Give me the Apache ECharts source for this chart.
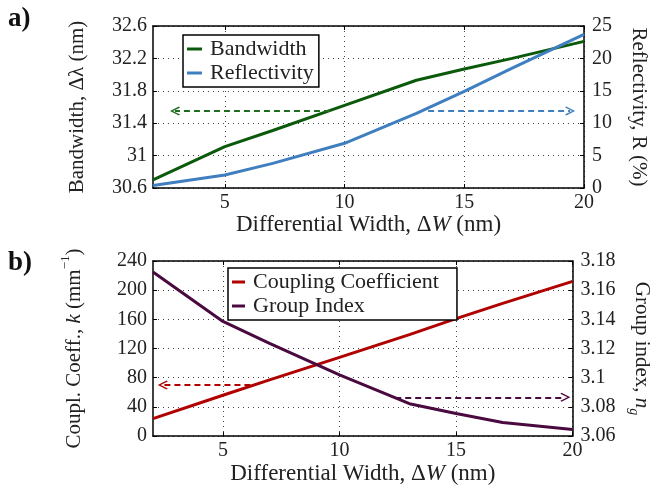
<!DOCTYPE html>
<html>
<head>
<meta charset="utf-8">
<script src="https://cdn.jsdelivr.net/npm/echarts@6/dist/echarts.min.js"></script>
<style>
  html, body { margin: 0; padding: 0; background: #fff; }
  #chart { width: 660px; height: 486px; }
</style>
</head>
<body>
<div id="chart"></div>
<script>
// differential width samples (nm)
const widths = [2, 5, 7, 10, 13, 15, 17, 20];
// panel a
const bandwidth = [30.70, 31.11, 31.31, 31.62, 31.93, 32.07, 32.20, 32.41];
const reflectivity = [0.4, 2.0, 3.8, 6.9, 11.5, 14.9, 18.5, 23.7];
// panel b
const coupling = [24, 56, 77, 108, 139, 161, 182, 212];
const groupIndex = [3.1725, 3.1386, 3.1236, 3.102, 3.0822, 3.0755, 3.0693, 3.0645];

// tick labels
const xTicks = [5, 10, 15, 20];
const bwTicks = [30.6, 31, 31.4, 31.8, 32.2, 32.6];
const reflTicks = [0, 5, 10, 15, 20, 25];
const kTicks = [0, 40, 80, 120, 160, 200, 240];
const ngTicks = [3.06, 3.08, 3.1, 3.12, 3.14, 3.16, 3.18];

// dashed arrows: [fromX, toX, y]
const bwArrow = [9.39, 2.92, 31.55];
const reflArrow = [13.49, 19.42, 11.9];
const kArrow = [6.18, 2.42, 70];
const ngArrow = [12.39, 19.69, 3.0866];

const FONT = '"Liberation Serif", serif';
const TXT = '#222';
const chevron = 'path://M5,0 L10,8 L8.8,9 L5,2.6 L1.2,9 L0,8 Z';

const chart = echarts.init(document.getElementById('chart'), null, { renderer: 'canvas' });

function pairs(ys) {
  return widths.map((x, i) => [x, ys[i]]);
}

function arrowLine(a, color) {
  return {
    silent: true,
    animation: false,
    symbol: ['none', chevron],
    symbolSize: [9, 10],
    label: { show: false },
    lineStyle: { color: color, type: [6, 4], width: 2 },
    emphasis: { disabled: true },
    data: [[{ coord: [a[0], a[2]] }, { coord: [a[1], a[2]] }]]
  };
}

function xAxisBottom(gridIndex, gap) {
  return {
    type: 'value',
    gridIndex: gridIndex,
    min: 2,
    max: 20,
    position: 'bottom',
    name: '{n|Differential Width, Δ}{i|W}{n| (nm)}',
    nameLocation: 'middle',
    nameGap: gap,
    nameTextStyle: {
      rich: {
        n: { fontFamily: FONT, fontSize: 23, color: TXT },
        i: { fontFamily: FONT, fontSize: 23, color: TXT, fontStyle: 'italic' }
      }
    },
    axisLine: { lineStyle: { color: '#000', width: 1.5 } },
    axisTick: { inside: true, length: 4, customValues: xTicks, lineStyle: { color: '#000' } },
    axisLabel: { customValues: xTicks, fontFamily: FONT, fontSize: 20, color: TXT, margin: 5 },
    splitLine: { show: true, lineStyle: { color: '#444', type: [1, 4], width: 1 } }
  };
}

function xAxisTop(gridIndex) {
  return {
    type: 'value',
    gridIndex: gridIndex,
    min: 2,
    max: 20,
    position: 'top',
    axisLine: { lineStyle: { color: '#000', width: 1.5 } },
    axisTick: { inside: true, length: 4, customValues: xTicks, lineStyle: { color: '#000' } },
    axisLabel: { show: false },
    splitLine: { show: false }
  };
}

function yAxis(gridIndex, pos, min, max, ticks, name, rich, gap, grid) {
  return {
    type: 'value',
    gridIndex: gridIndex,
    position: pos,
    min: min,
    max: max,
    name: name,
    nameLocation: 'middle',
    nameGap: gap,
    nameRotate: pos === 'left' ? 90 : -90,
    nameTextStyle: { rich: rich },
    axisLine: { show: true, lineStyle: { color: '#000', width: 1.5 } },
    axisTick: { show: true, inside: true, length: 4, customValues: ticks, lineStyle: { color: '#000' } },
    axisLabel: { customValues: ticks, fontFamily: FONT, fontSize: 20, color: TXT, margin: pos === 'left' ? 6 : 8 },
    splitLine: { show: grid, lineStyle: { color: '#444', type: [1, 4], width: 1 } }
  };
}

const plain = { fontFamily: FONT, fontSize: 21, color: TXT, lineHeight: 30 };
const ital = Object.assign({}, plain, { fontStyle: 'italic' });

const option = {
  animation: false,
  textStyle: { fontFamily: FONT },
  graphic: [
    { type: 'text', left: 8, top: 6, style: { text: 'a)', font: 'bold 27px "Liberation Serif", serif', fill: '#111' } },
    { type: 'text', left: 8, top: 250, style: { text: 'b)', font: 'bold 27px "Liberation Serif", serif', fill: '#111' } }
  ],
  grid: [
    { left: 153, top: 26, width: 431, height: 162, containLabel: false },
    { left: 153, top: 261, width: 431, height: 181, containLabel: false }
  ],
  legend: [
    {
      data: ['Bandwidth', 'Reflectivity'],
      orient: 'vertical',
      left: 183,
      top: 35,
      padding: [3, 5, 3, 4],
      itemGap: 2,
      itemWidth: 15,
      itemHeight: 3,
      icon: 'rect',
      backgroundColor: '#fff',
      borderColor: '#000',
      borderWidth: 1.5,
      borderRadius: 0,
      selectedMode: false,
      textStyle: { fontFamily: FONT, fontSize: 22, color: TXT, lineHeight: 22, padding: [0, 0, 0, 3] }
    },
    {
      data: ['Coupling Coefficient', 'Group Index'],
      orient: 'vertical',
      left: 228,
      top: 268,
      padding: [3, 18, 3, 4],
      itemGap: 2,
      itemWidth: 13,
      itemHeight: 3,
      icon: 'rect',
      backgroundColor: '#fff',
      borderColor: '#000',
      borderWidth: 1.5,
      borderRadius: 0,
      selectedMode: false,
      textStyle: { fontFamily: FONT, fontSize: 22, color: TXT, lineHeight: 22, padding: [0, 0, 0, 3] }
    }
  ],
  xAxis: [xAxisBottom(0, 20), xAxisTop(0), xAxisBottom(1, 21), xAxisTop(1)],
  yAxis: [
    yAxis(0, 'left', 30.6, 32.6, bwTicks,
      '{n|Bandwidth, Δλ (nm)}', { n: plain }, 61, true),
    yAxis(0, 'right', 0, 25, reflTicks,
      '{n|Reflectivity, R (%)}', { n: plain }, 40, false),
    yAxis(1, 'left', 0, 240, kTicks,
      '{n|Coupl. Coeff., }{i|k}{n| (mm}{s|−1}{n|)}',
      { n: plain, i: ital, s: { fontFamily: FONT, fontSize: 13, color: TXT, verticalAlign: 'top', lineHeight: 24 } }, 64, true),
    yAxis(1, 'right', 3.06, 3.18, ngTicks,
      '{n|Group index, }{i|n}{g|g}',
      { n: plain, i: ital, g: { fontFamily: FONT, fontSize: 14, color: TXT, fontStyle: 'italic', verticalAlign: 'bottom' } }, 46, false)
  ],
  series: [
    {
      name: 'Bandwidth', type: 'line', xAxisIndex: 0, yAxisIndex: 0,
      data: pairs(bandwidth), showSymbol: false, symbol: 'none', z: 3,
      lineStyle: { color: '#0b5a0b', width: 3 }, itemStyle: { color: '#0b5a0b' },
      markLine: arrowLine(bwArrow, '#1e6e1e')
    },
    {
      name: 'Reflectivity', type: 'line', xAxisIndex: 0, yAxisIndex: 1,
      data: pairs(reflectivity), showSymbol: false, symbol: 'none', z: 3,
      lineStyle: { color: '#3f7fc0', width: 3 }, itemStyle: { color: '#3f7fc0' },
      markLine: arrowLine(reflArrow, '#3f7fc0')
    },
    {
      name: 'Coupling Coefficient', type: 'line', xAxisIndex: 2, yAxisIndex: 2,
      data: pairs(coupling), showSymbol: false, symbol: 'none', z: 3,
      lineStyle: { color: '#b00000', width: 3 }, itemStyle: { color: '#b00000' },
      markLine: arrowLine(kArrow, '#b00000')
    },
    {
      name: 'Group Index', type: 'line', xAxisIndex: 2, yAxisIndex: 3,
      data: pairs(groupIndex), showSymbol: false, symbol: 'none', z: 3,
      lineStyle: { color: '#4a0a40', width: 3 }, itemStyle: { color: '#4a0a40' },
      markLine: arrowLine(ngArrow, '#4a0a40')
    }
  ]
};

chart.setOption(option);
window.addEventListener('resize', () => chart.resize());
</script>
</body>
</html>
